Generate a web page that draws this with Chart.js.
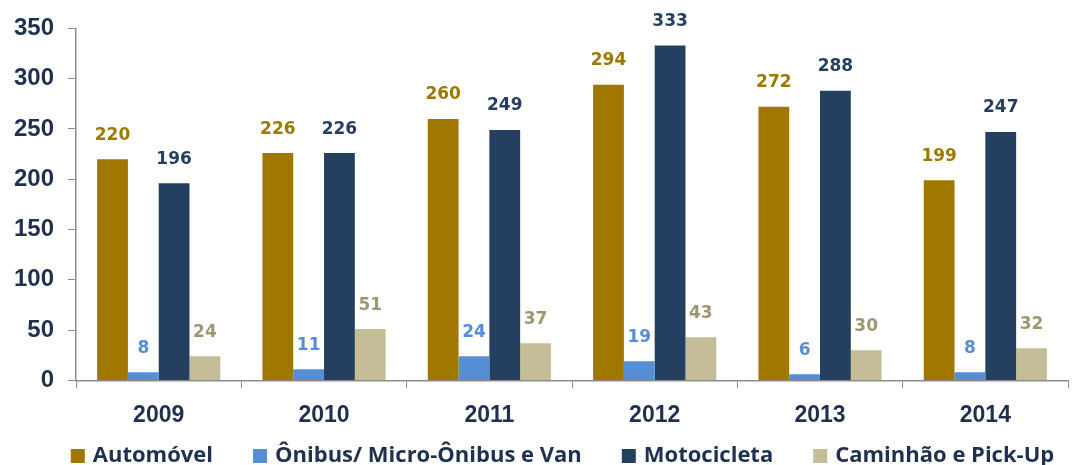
<!DOCTYPE html>
<html>
<head>
<meta charset="utf-8">
<script src="https://cdn.jsdelivr.net/npm/chart.js@4/dist/chart.umd.min.js"></script>
<style>
  html, body { margin: 0; padding: 0; background: #fff; }
  #wrap { width: 1077px; height: 465px; position: relative; }
</style>
</head>
<body>
<div id="wrap"><canvas id="chart"></canvas></div>
<script>
const years = ['2009', '2010', '2011', '2012', '2013', '2014'];
const automovel = [220, 226, 260, 294, 272, 199];
const onibus = [8, 11, 24, 19, 6, 8];
const motocicleta = [196, 226, 249, 333, 288, 247];
const caminhao = [24, 51, 37, 43, 30, 32];
const seriesNames = ['Automóvel', 'Ônibus/ Micro-Ônibus e Van', 'Motocicleta', 'Caminhão e Pick-Up'];
const barColors = ['#A07800', '#558ED5', '#243F60', '#C4BD97'];
const labelColors = ['#A07800', '#558ED5', '#243F60', '#9E9870'];

const NUMFONT = "'DejaVu Sans', Verdana, sans-serif";
const AXFONT = "'Liberation Sans', Arial, sans-serif";
const LEGFONT = "'Open Sans', 'Liberation Sans', sans-serif";
const NAVY = '#1F3050';

// values above each bar
const valueLabels = {
    id: 'valueLabels',
    afterDatasetsDraw(chart) {
        const ctx = chart.ctx;
        ctx.save();
        ctx.font = 'bold 17px ' + NUMFONT;
        ctx.textAlign = 'center';
        ctx.textBaseline = 'middle';
        chart.data.datasets.forEach((ds, i) => {
            const meta = chart.getDatasetMeta(i);
            ctx.fillStyle = labelColors[i];
            meta.data.forEach((bar, j) => {
                ctx.fillText(ds.data[j], bar.x, bar.y - 24);
            });
        });
        ctx.restore();
    }
};

// legend row at the bottom, wider spacing than the built-in one allows
const bottomLegend = {
    id: 'bottomLegend',
    afterDraw(chart) {
        const ctx = chart.ctx;
        const box = 14, gap = 8, spacing = 40;
        ctx.save();
        ctx.font = 'bold 22px ' + LEGFONT;
        ctx.textBaseline = 'middle';
        const widths = seriesNames.map(n => ctx.measureText(n).width);
        const total = widths.reduce((s, w) => s + w + box + gap, 0) + spacing * (seriesNames.length - 1);
        let x = chart.width / 2 + 24 - total / 2;
        const y = chart.height - 9;
        seriesNames.forEach((n, i) => {
            ctx.fillStyle = barColors[i];
            ctx.fillRect(x, y - box / 2, box, box);
            ctx.fillStyle = NAVY;
            ctx.fillText(n, x + box + gap, y);
            x += box + gap + widths[i] + spacing;
        });
        ctx.restore();
    }
};

const datasets = [automovel, onibus, motocicleta, caminhao].map((d, i) => ({
    label: seriesNames[i],
    data: d,
    backgroundColor: barColors[i],
    borderWidth: 0,
    barPercentage: 1,
    categoryPercentage: 0.745
}));

new Chart(document.getElementById('chart'), {
    type: 'bar',
    data: { labels: years, datasets },
    plugins: [valueLabels, bottomLegend],
    options: {
        responsive: true,
        maintainAspectRatio: false,
        animation: false,
        layout: { padding: { top: 10, right: 9, left: 0, bottom: 23 } },
        plugins: {
            tooltip: { enabled: false },
            legend: { display: false }
        },
        scales: {
            x: {
                grid: { display: true, drawOnChartArea: false, drawTicks: true, tickLength: 8, color: '#8C8C8C' },
                border: { color: '#8C8C8C', width: 1.5 },
                ticks: { color: NAVY, font: { family: AXFONT, size: 23, weight: 'bold' }, padding: 13 }
            },
            y: {
                min: 0,
                max: 350,
                grid: { display: true, drawOnChartArea: false, drawTicks: true, tickLength: 8, color: '#8C8C8C' },
                border: { color: '#8C8C8C', width: 1.5 },
                ticks: { stepSize: 50, color: NAVY, font: { family: AXFONT, size: 24, weight: 'bold' }, padding: 14 }
            }
        }
    }
});
</script>
</body>
</html>
